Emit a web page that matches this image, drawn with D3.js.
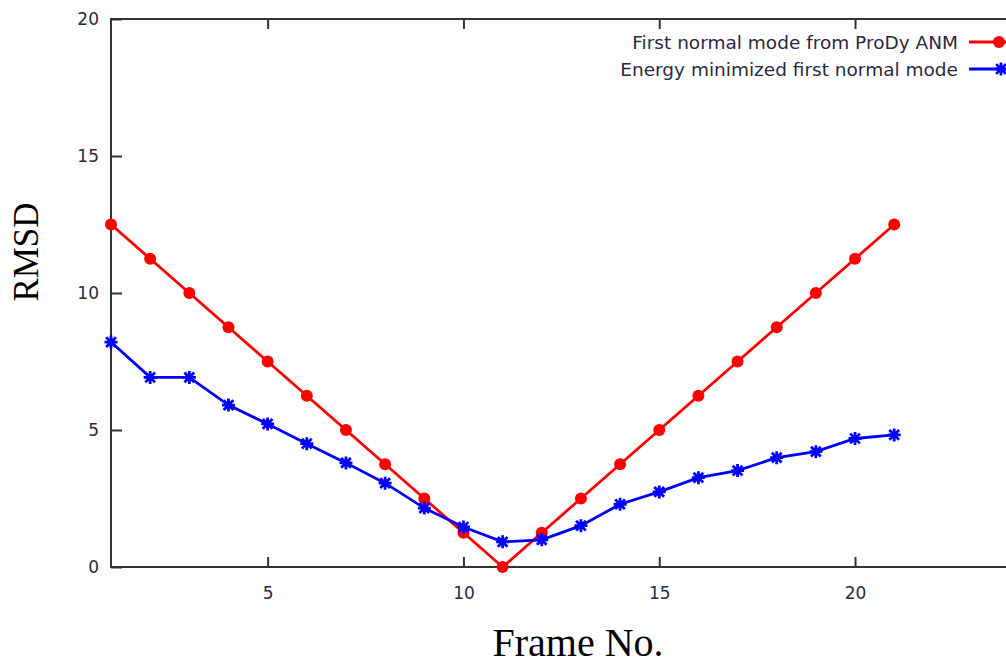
<!DOCTYPE html>
<html>
<head>
<meta charset="utf-8">
<script src="https://cdn.jsdelivr.net/npm/d3@7"></script>
<style>
  body { margin: 0; background: #fff; }
  svg { display: block; }
</style>
</head>
<body>
<svg id="chart"></svg>
<script>
// frame numbers and RMSD values
const frames = d3.range(1, 22);
const anmRmsd = [12.5, 11.25, 10, 8.75, 7.5, 6.25, 5, 3.75, 2.5, 1.25, 0,
                 1.25, 2.5, 3.75, 5, 6.25, 7.5, 8.75, 10, 11.25, 12.5];
const minRmsd = [8.21, 6.92, 6.92, 5.91, 5.22, 4.5, 3.8, 3.06, 2.15, 1.46, 0.92,
                 0.99, 1.51, 2.29, 2.74, 3.26, 3.52, 3.99, 4.21, 4.69, 4.82];
const seriesNames = ["First normal mode from ProDy ANM", "Energy minimized first normal mode"];
const seriesColors = ["#ff0000", "#0000ff"];
const xTicks = [5, 10, 15, 20];
const yTicks = [0, 5, 10, 15, 20];

const width = 1006, height = 667;
const margin = {top: 19, left: 111, bottom: 100};

const svg = d3.select("#chart").attr("width", width).attr("height", height);

// x runs 1..24, the right border falls just outside the picture
const x = d3.scaleLinear().domain([1, 24]).range([margin.left, margin.left + 23 * 39.16]);
const y = d3.scaleLinear().domain([0, 20]).range([height - margin.bottom, margin.top]);

const axisColor = "#333";
const tickFont = "'DejaVu Sans', sans-serif";
const textColor = "#2a2a40";

// plot frame
svg.append("rect")
    .attr("x", x(1)).attr("y", y(20))
    .attr("width", x(24) - x(1)).attr("height", y(0) - y(20))
    .attr("fill", "none").attr("stroke", axisColor).attr("stroke-width", 2);

// ticks pointing inwards, mirrored on top
const xAxisB = d3.axisBottom(x).tickValues(xTicks).tickSize(-10).tickPadding(20).tickSizeOuter(0);
const xAxisT = d3.axisTop(x).tickValues(xTicks).tickSize(-10).tickFormat("").tickSizeOuter(0);
const yAxisL = d3.axisLeft(y).tickValues(yTicks).tickSize(-11).tickPadding(12).tickSizeOuter(0);

function styleAxis(g) {
    g.select(".domain").remove();
    g.selectAll(".tick line").attr("stroke", axisColor).attr("stroke-width", 2);
    g.selectAll(".tick text")
        .attr("fill", textColor)
        .style("font-family", tickFont)
        .style("font-size", "17px");
}

svg.append("g").attr("transform", `translate(0,${y(0)})`).call(xAxisB).call(styleAxis);
svg.append("g").attr("transform", `translate(0,${y(20)})`).call(xAxisT).call(styleAxis);
svg.append("g").attr("transform", `translate(${x(1)},0)`).call(yAxisL).call(styleAxis);

// axis titles
svg.append("text")
    .attr("x", 578).attr("y", 656)
    .attr("text-anchor", "middle")
    .style("font-family", "'Liberation Serif', 'Times New Roman', serif")
    .style("font-size", "40px")
    .text("Frame No.");

svg.append("text")
    .attr("transform", "translate(38,252) rotate(-90)")
    .attr("text-anchor", "middle")
    .style("font-family", "'Liberation Serif', 'Times New Roman', serif")
    .style("font-size", "35px")
    .text("RMSD");

// series
const series = [anmRmsd, minRmsd].map((vals, i) => ({
    name: seriesNames[i],
    color: seriesColors[i],
    points: frames.map((f, j) => ({frame: f, rmsd: vals[j]}))
}));

const line = d3.line().x(d => x(d.frame)).y(d => y(d.rmsd));
const plot = svg.append("g");

// gnuplot style asterisk
function star(g, cx, cy, color) {
    const s = 6.5;
    const path = `M${cx - s},${cy}L${cx + s},${cy}M${cx},${cy - s}L${cx},${cy + s}` +
        `M${cx - s * 0.75},${cy - s * 0.75}L${cx + s * 0.75},${cy + s * 0.75}` +
        `M${cx - s * 0.75},${cy + s * 0.75}L${cx + s * 0.75},${cy - s * 0.75}`;
    g.append("path").attr("d", path).attr("stroke", color).attr("stroke-width", 2.8).attr("fill", "none");
}

series.forEach((s, i) => {
    plot.append("path")
        .datum(s.points)
        .attr("d", line)
        .attr("fill", "none")
        .attr("stroke", s.color)
        .attr("stroke-width", 2.8);
    if (i === 0) {
        plot.selectAll(null).data(s.points).join("circle")
            .attr("cx", d => x(d.frame)).attr("cy", d => y(d.rmsd))
            .attr("r", 6).attr("fill", s.color);
    } else {
        s.points.forEach(d => star(plot, x(d.frame), y(d.rmsd), s.color));
    }
});

// legend (top right, partly cut by the picture edge)
const legend = svg.append("g");
series.forEach((s, i) => {
    const ly = 42 + i * 27;
    legend.append("text")
        .attr("x", 958).attr("y", ly + 7)
        .attr("text-anchor", "end")
        .attr("fill", textColor)
        .style("font-family", tickFont)
        .style("font-size", "18.5px")
        .text(s.name);
    legend.append("line")
        .attr("x1", 969).attr("x2", 1030).attr("y1", ly).attr("y2", ly)
        .attr("stroke", s.color).attr("stroke-width", 2.8);
    if (i === 0) {
        legend.append("circle").attr("cx", 999).attr("cy", ly).attr("r", 6).attr("fill", s.color);
    } else {
        star(legend, 1001, ly, s.color);
    }
});
</script>
</body>
</html>
